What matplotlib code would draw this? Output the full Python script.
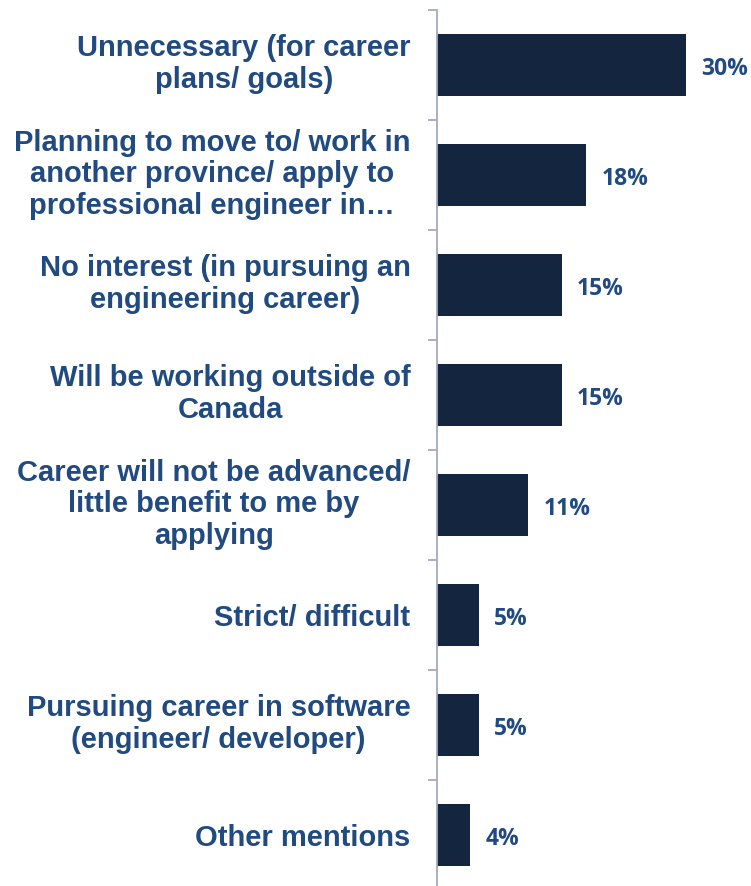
import numpy as np
import matplotlib.pyplot as plt
import matplotlib.transforms as mtransforms

reasons = ['Unnecessary (for career\nplans/ goals)',
           'Planning to move to/ work in\nanother province/ apply to\nprofessional engineer in\u2026',
           'No interest (in pursuing an\nengineering career)',
           'Will be working outside of\nCanada',
           'Career will not be advanced/\nlittle benefit to me by\napplying',
           'Strict/ difficult',
           'Pursuing career in software\n(engineer/ developer)',
           'Other mentions']
shares = [30, 18, 15, 15, 11, 5, 5, 4]

bar_col = '#13253f'
txt_col = '#204a80'
spine_col = '#a3aabd'

W, H = 751, 886
fig = plt.figure(figsize=(W / 100, H / 100), dpi=100)
# plot area: axis line at x=437, categories 110 px apart starting at y=10
ax = fig.add_axes([437 / W, (H - 890) / H, (W - 437) / W, 880 / H])

y = np.arange(len(reasons))
ax.barh(y, shares, height=0.57, color=bar_col)
ax.set_ylim(len(reasons) - 0.5, -0.5)
ax.set_xlim(0, (W - 437) / 8.3)

down = mtransforms.ScaledTranslation(0, -3 / 72, fig.dpi_scale_trans)
for yi, v in zip(y, shares):
    ax.text(v + 1.8, yi, f'{v}%', va='center', ha='left', fontsize=16.5,
            fontweight='bold', color=txt_col, family=['Open Sans', 'DejaVu Sans'],
            transform=ax.transData + down)

ax.set_yticks(y)
ax.set_yticklabels(reasons, fontsize=21, fontweight='bold', color=txt_col,
                   family=['Liberation Sans', 'DejaVu Sans'],
                   multialignment='center', linespacing=1.17)
ax.tick_params(axis='y', which='major', length=0, pad=19)
ax.set_yticks(np.arange(len(reasons) + 1) - 0.5, minor=True)
ax.tick_params(axis='y', which='minor', length=6.5, width=1.3, color=spine_col)

# wrapped labels sit a little low, nudge them up
for lab in ax.get_yticklabels():
    if '\n' in lab.get_text():
        up = mtransforms.ScaledTranslation(0, 4 / 72, fig.dpi_scale_trans)
        lab.set_transform(lab.get_transform() + up)

ax.set_xticks([])
for s in ['top', 'right', 'bottom']:
    ax.spines[s].set_visible(False)
ax.spines['left'].set_color(spine_col)
ax.spines['left'].set_linewidth(1.3)

fig.savefig('out.png', dpi=100)
